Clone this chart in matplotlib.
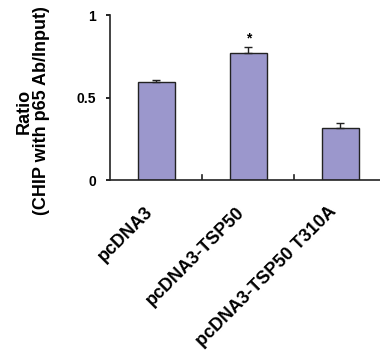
import matplotlib.pyplot as plt
import matplotlib.transforms as mtransforms

plt.rcParams['font.family'] = ['Liberation Sans', 'DejaVu Sans']

# Data
# ----------------------------------------------------------------------------

labels = ['pcDNA3', 'pcDNA3-TSP50', 'pcDNA3-TSP50 T310A']
ratio = [0.595, 0.768, 0.317]
err = [0.012, 0.04, 0.026]
marks = ['', '*', '']

# Plot
# ----------------------------------------------------------------------------

fig = plt.figure(figsize=(3.8, 3.54), dpi=100)
ax = fig.add_axes([0.2895, 0.4915, 0.7105, 0.466])

x = range(len(labels))
ax.bar(x, ratio, width=0.4, color='#9b97cc', edgecolor='#222222', linewidth=1.0,
       yerr=[[0] * len(err), err], error_kw=dict(ecolor='#222222', elinewidth=1.0,
                                                capsize=3, capthick=1.0))
for i, (v, e, m) in enumerate(zip(ratio, err, marks)):
    if m:
        ax.text(i, v + e + 0.005, m, ha='center', va='bottom', fontsize=10, fontweight='bold')

ax.set_xlim(-0.5, 2.43)
ax.set_ylim(0, 1)
ax.set_yticks([0, 0.5, 1])
ax.set_yticklabels(['0', '0.5', '1'], fontsize=10, fontweight='bold')
ax.tick_params(axis='y', direction='out', length=3, width=1.2, pad=7)

ax.set_xticks(x)
ax.set_xticklabels(labels, rotation=45, ha='right', rotation_mode='anchor',
                   fontsize=13, fontweight='bold')
ax.tick_params(axis='x', length=0, pad=14)
shift = mtransforms.ScaledTranslation(-12 / 100, -4 / 100, fig.dpi_scale_trans)
for lab in ax.get_xticklabels():
    lab.set_transform(lab.get_transform() + shift)
for b in [0.5, 1.5]:
    ax.plot([b, b], [0, 0.03], color='#222222', lw=1.2)

for s in ['top', 'right']:
    ax.spines[s].set_visible(False)
for s in ['left', 'bottom']:
    ax.spines[s].set_linewidth(1.2)
    ax.spines[s].set_color('#222222')

fig.text(24 / 380, 1 - 111 / 354, 'Ratio', rotation=90, ha='center', va='center',
         fontsize=13, fontweight='bold')
fig.text(42 / 380, 1 - 111 / 354, '(CHIP with p65 Ab/Input)', rotation=90,
         ha='center', va='center', fontsize=13, fontweight='bold')

fig.savefig('out.png')
